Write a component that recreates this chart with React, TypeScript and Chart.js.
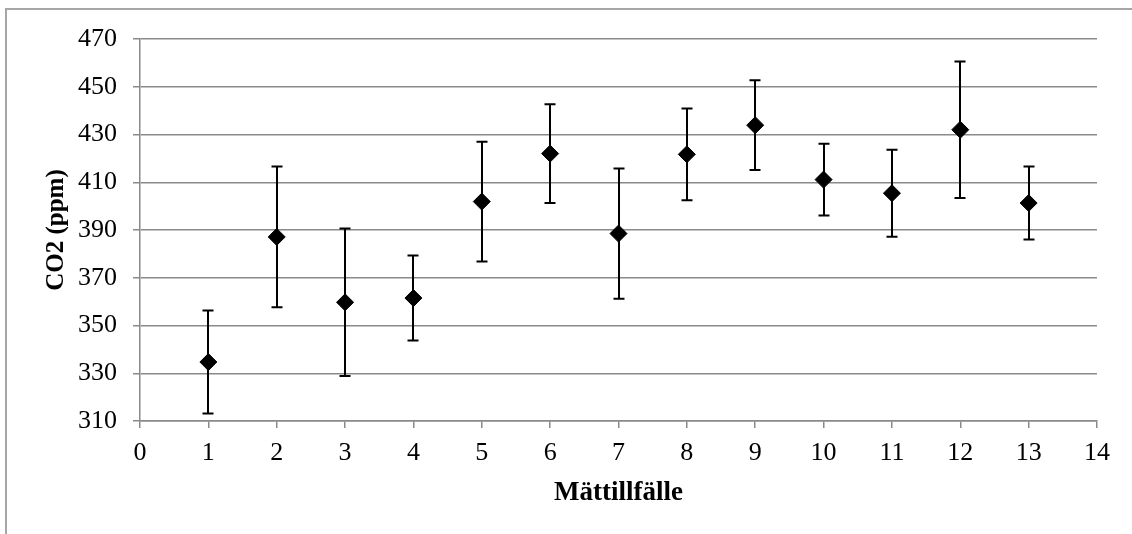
import React, { useEffect, useRef } from "react";
import { Chart, registerables } from "chart.js";

Chart.register(...registerables);

const caseNumbers = [1, 2, 3, 4, 5, 6, 7, 8, 9, 10, 11, 12, 13];
const co2Means = [334.7, 387.1, 359.7, 361.5, 401.9, 422.0, 388.5, 421.7, 433.9, 411.1, 405.4, 432.0, 401.3];
const co2Errors = [21.6, 29.5, 30.9, 17.8, 25.1, 20.7, 27.3, 19.2, 18.8, 15.0, 18.2, 28.6, 15.3];
const xTitle = "Mättillfälle";
const yTitle = "CO2 (ppm)";

const FONT = "'Liberation Serif', 'Times New Roman', serif";
const GRID = "#8a8a8a";

const errorBarPlugin = {
  id: "errorBars",
  beforeDatasetsDraw(chart: any) {
    const { ctx, scales } = chart;
    const xs = scales.x;
    const ys = scales.y;
    ctx.save();
    ctx.strokeStyle = "#000";
    ctx.lineWidth = 2;
    caseNumbers.forEach((c, i) => {
      const px = Math.round(xs.getPixelForValue(c));
      const top = ys.getPixelForValue(co2Means[i] + co2Errors[i]);
      const bot = ys.getPixelForValue(co2Means[i] - co2Errors[i]);
      ctx.beginPath();
      ctx.moveTo(px, top);
      ctx.lineTo(px, bot);
      ctx.moveTo(px - 5.5, top);
      ctx.lineTo(px + 5.5, top);
      ctx.moveTo(px - 5.5, bot);
      ctx.lineTo(px + 5.5, bot);
      ctx.stroke();
    });
    ctx.restore();
  },
};

export default function App() {
  const ref = useRef<HTMLCanvasElement | null>(null);
  useEffect(() => {
    if (!ref.current) return;
    const chart = new Chart(ref.current, {
      type: "scatter",
      data: {
        datasets: [
          {
            data: caseNumbers.map((c, i) => ({ x: c, y: co2Means[i] })),
            pointStyle: "rectRot",
            pointRadius: 8.5,
            pointHoverRadius: 8.5,
            backgroundColor: "#000",
            borderColor: "#000",
            borderWidth: 1,
          },
        ],
      },
      options: {
        responsive: false,
        animation: false,
        events: [],
        layout: { padding: { left: 0, right: 35, top: 39, bottom: 0 } },
        plugins: { legend: { display: false }, tooltip: { enabled: false } },
        scales: {
          x: {
            type: "linear",
            min: 0,
            max: 14,
            afterFit: (s: any) => {
              s.height = 113;
            },
            ticks: {
              stepSize: 1,
              color: "#000",
              padding: 10,
              font: { family: FONT, size: 26 },
            },
            grid: { drawOnChartArea: false, drawTicks: true, tickLength: 7, color: GRID, lineWidth: 1.5 },
            border: { display: true, color: GRID, width: 1.5 },
            title: {
              display: true,
              text: xTitle,
              color: "#000",
              font: { family: FONT, size: 27, weight: "bold" },
              padding: { top: 0, bottom: 25 },
            },
          },
          y: {
            type: "linear",
            min: 310,
            max: 470,
            afterFit: (s: any) => {
              s.width = 140;
            },
            ticks: {
              stepSize: 20,
              color: "#000",
              padding: 16,
              font: { family: FONT, size: 26 },
            },
            grid: { drawOnChartArea: true, drawTicks: true, tickLength: 7, color: GRID, lineWidth: 1.5 },
            border: { display: true, color: GRID, width: 1.5 },
            title: {
              display: true,
              text: yTitle,
              color: "#000",
              font: { family: FONT, size: 25, weight: "bold" },
              padding: { top: 42, bottom: 0 },
            },
          },
        },
      },
      plugins: [errorBarPlugin],
    });
    return () => chart.destroy();
  }, []);

  return (
    <div style={{ position: "fixed", left: 0, top: 0, width: 1132, height: 534, overflow: "hidden", background: "#fff" }}>
      <canvas ref={ref} width={1132} height={534} style={{ position: "absolute", left: 0, top: 0 }} />
      <div
        style={{
          position: "absolute",
          left: 5,
          top: 8,
          width: 1200,
          height: 600,
          borderTop: "2px solid #a6a6a6",
          borderLeft: "2px solid #a6a6a6",
          pointerEvents: "none",
        }}
      />
    </div>
  );
}
